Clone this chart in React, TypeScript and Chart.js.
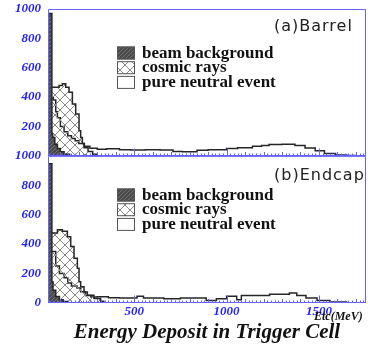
import { useEffect, useRef } from "react";
import { Chart, registerables } from "chart.js";

Chart.register(...registerables);

// ---- data (energy in MeV, counts per bin; edges are bin left edges, last edge closes the histogram) ----
const xTickValues = [500, 1000, 1500];
const yTickValues = [0, 200, 400, 600, 800, 1000];
const seriesLabels = ["beam background", "cosmic rays", "pure neutral event"];
const panelLabels = ["(a)Barrel", "(b)Endcap"];
const xUnitLabel = "Etc(MeV)";
const chartTitle = "Energy Deposit in Trigger Cell";

const barrelBeamEdges = [33, 54, 58, 70, 84, 100, 120, 150];
const barrelBeamCounts = [970, 150, 125, 80, 50, 28, 12, 0];

const barrelCosmicEdges = [33, 93, 111, 129, 147, 165, 183, 201, 210, 219, 228, 250, 275, 300];
const barrelCosmicCounts = [468, 480, 491, 468, 434, 354, 285, 171, 125, 84, 55, 30, 12, 0];

const barrelPureEdges = [33, 62, 75, 84, 100, 120, 140, 160, 180, 200, 230, 260, 300, 350, 420, 480, 560, 640, 710, 760, 840, 900, 1000, 1060, 1140, 1190, 1230, 1300, 1370, 1425, 1480, 1530, 1590, 1650, 1700];
const barrelPureCounts = [395, 380, 300, 260, 200, 165, 137, 118, 103, 85, 65, 52, 45, 48, 42, 40, 42, 40, 30, 29, 38, 42, 50, 55, 65, 70, 78, 80, 70, 53, 35, 16, 6, 3, 0];

const endcapBeamEdges = [33, 54, 60, 75, 95, 115, 140];
const endcapBeamCounts = [946, 143, 86, 43, 20, 8, 0];

const endcapCosmicEdges = [33, 84, 111, 138, 156, 174, 192, 201, 210, 228, 246, 282, 318, 335];
const endcapCosmicCounts = [476, 498, 487, 449, 384, 304, 235, 143, 109, 74, 52, 29, 10, 0];

const endcapPureEdges = [33, 75, 95, 120, 140, 160, 190, 210, 235, 265, 300, 360, 420, 515, 550, 660, 750, 890, 945, 1000, 1055, 1080, 1233, 1340, 1380, 1430, 1490, 1560, 1650];
const endcapPureCounts = [350, 250, 200, 170, 135, 115, 100, 75, 50, 40, 42, 35, 32, 45, 32, 28, 32, 15, 28, 44, 21, 50, 59, 67, 50, 32, 15, 5, 0];

const BLUE_TEXT = "#2222ff";
const BLUE_LINE = "#6464ff";
const OUTLINE = "#262626";

function toPoints(edges: number[], counts: number[]) {
  return edges.map((x, i) => ({ x, y: counts[i] }));
}

function makePattern(kind: "beam" | "cosmic"): CanvasPattern | string {
  const c = document.createElement("canvas");
  const size = kind === "cosmic" ? 10 : 4;
  c.width = size;
  c.height = size;
  const g = c.getContext("2d");
  if (!g) return kind === "beam" ? "#505050" : "rgba(0,0,0,0)";
  if (kind === "beam") {
    g.fillStyle = "#4c4c4c";
    g.fillRect(0, 0, size, size);
    g.strokeStyle = "#6e6e6e";
    g.lineWidth = 1;
    g.beginPath();
    g.moveTo(0, size);
    g.lineTo(size, 0);
    g.stroke();
  } else {
    g.strokeStyle = "#8a8a8a";
    g.lineWidth = 1;
    g.beginPath();
    g.moveTo(0, 0);
    g.lineTo(size, size);
    g.moveTo(size, 0);
    g.lineTo(0, size);
    g.stroke();
  }
  const p = g.createPattern(c, "repeat");
  return p || "#888";
}

const decorPlugin = {
  id: "decor",
  afterDatasetsDraw(chart: any, _args: any, opts: any) {
    const ctx: CanvasRenderingContext2D = chart.ctx;
    const { left, right } = chart.chartArea;
    const xs = chart.scales.x;
    const panels = [chart.scales.yTop, chart.scales.yBot];
    const fills = opts.fills as any[];
    ctx.save();
    panels.forEach((ys: any, p: number) => {
      const top = ys.top;
      const bottom = ys.bottom;
      // frame
      ctx.strokeStyle = BLUE_LINE;
      ctx.lineWidth = 1;
      ctx.beginPath();
      ctx.moveTo(left + 0.5, bottom);
      ctx.lineTo(left + 0.5, top + 0.5);
      ctx.lineTo(right - 0.5, top + 0.5);
      ctx.lineTo(right - 0.5, bottom);
      ctx.moveTo(left, Math.round(bottom) - 0.5);
      ctx.lineTo(right, Math.round(bottom) - 0.5);
      ctx.stroke();
      // x tick marks
      for (let v = 40; v <= 1740; v += 20) {
        const px = Math.round(xs.getPixelForValue(v)) + 0.5;
        const len = v % 500 === 0 ? 7 : v % 100 === 0 ? 3.5 : 2;
        ctx.beginPath();
        ctx.moveTo(px, Math.round(bottom) - 0.5);
        ctx.lineTo(px, Math.round(bottom) - 0.5 - len);
        ctx.stroke();
      }
      // legend
      const ly = opts.legendTops[p];
      seriesLabels.forEach((lab, i) => {
        const by = ly + i * 14.7;
        ctx.fillStyle = "#fff";
        ctx.fillRect(117, by, 18, 13);
        ctx.fillStyle = fills[i];
        ctx.fillRect(117, by, 18, 13);
        ctx.strokeStyle = "#555";
        ctx.lineWidth = 1;
        ctx.strokeRect(117.5, by + 0.5, 17, 12);
        ctx.fillStyle = "#111";
        ctx.font = 'bold 17px "Liberation Serif"';
        ctx.textAlign = "left";
        ctx.textBaseline = "alphabetic";
        ctx.fillText(lab, 142, by + 11);
      });
      // panel label
      ctx.fillStyle = "#222";
      ctx.font = '16px "DejaVu Sans"';
      (ctx as any).letterSpacing = "1px";
      ctx.fillText(panelLabels[p], 274, opts.panelLabelBaselines[p]);
      (ctx as any).letterSpacing = "0px";
    });
    // unit label
    ctx.fillStyle = "#111";
    ctx.font = 'bold italic 12px "Liberation Serif"';
    ctx.fillText(xUnitLabel, 314, 320);
    ctx.restore();
  },
};

export default function App() {
  const ref = useRef<HTMLCanvasElement | null>(null);
  useEffect(() => {
    const canvas = ref.current;
    if (!canvas) return;
    const beamFill = makePattern("beam");
    const cosmicFill = makePattern("cosmic");
    const pureFill = "#ffffff";
    const ds = (label: string, edges: number[], counts: number[], fill: any, axis: string) => ({
      label,
      data: toPoints(edges, counts),
      yAxisID: axis,
      stepped: "before" as const,
      backgroundColor: fill,
      borderColor: OUTLINE,
      borderWidth: 1.5,
      pointRadius: 0,
      fill: "origin",
    });
    const tickFont = { family: "Liberation Serif", size: 13, weight: "bold" as const, style: "italic" as const };
    const yScale = (hideZero: boolean) => ({
      type: "linear" as const,
      position: "left" as const,
      stack: "panels",
      stackWeight: 1,
      min: 0,
      max: 1000,
      grid: { display: false, drawTicks: false, tickLength: 0 },
      border: { display: false },
      afterBuildTicks: (s: any) => {
        s.ticks = yTickValues.map((v) => ({ value: v }));
      },
      afterFit: (s: any) => {
        s.width = 48;
        s.paddingTop = 0;
        s.paddingBottom = 0;
      },
      ticks: {
        autoSkip: false,
        padding: 7,
        color: BLUE_TEXT,
        font: tickFont,
        callback: (v: any) => (hideZero && v === 0 ? "" : String(v)),
      },
    });
    const chart = new Chart(canvas, {
      type: "line",
      data: {
        datasets: [
          ds(seriesLabels[0], barrelBeamEdges, barrelBeamCounts, beamFill, "yTop"),
          ds(seriesLabels[1], barrelCosmicEdges, barrelCosmicCounts, cosmicFill, "yTop"),
          ds(seriesLabels[2], barrelPureEdges, barrelPureCounts, pureFill, "yTop"),
          ds(seriesLabels[0], endcapBeamEdges, endcapBeamCounts, beamFill, "yBot"),
          ds(seriesLabels[1], endcapCosmicEdges, endcapCosmicCounts, cosmicFill, "yBot"),
          ds(seriesLabels[2], endcapPureEdges, endcapPureCounts, pureFill, "yBot"),
        ] as any,
      },
      options: {
        animation: false,
        responsive: false,
        maintainAspectRatio: false,
        layout: { padding: { top: 9, right: 2, left: 0, bottom: 0 } },
        elements: { point: { radius: 0 }, line: { tension: 0 } },
        plugins: {
          legend: { display: false },
          tooltip: { enabled: false },
          title: {
            display: true,
            position: "bottom",
            fullSize: false,
            text: chartTitle,
            color: "#111",
            font: { family: "Liberation Serif", size: 21, weight: "bold", style: "italic" },
            padding: { top: 0, bottom: 2 },
          },
          decor: {
            fills: [beamFill, cosmicFill, pureFill],
            legendTops: [46.5, 188.5],
            panelLabelBaselines: [31, 180],
          },
        } as any,
        scales: {
          x: {
            type: "linear",
            min: 33,
            max: 1755,
            grid: { display: false, drawTicks: false, tickLength: 0 },
            border: { display: false },
            afterBuildTicks: (s: any) => {
              s.ticks = xTickValues.map((v) => ({ value: v }));
            },
            afterFit: (s: any) => {
              s.height = 17;
              s.paddingLeft = 0;
              s.paddingRight = 0;
            },
            ticks: {
              padding: 1,
              color: BLUE_TEXT,
              font: tickFont,
              maxRotation: 0,
              autoSkip: false,
              callback: (v: any) => String(v),
            },
          },
          yBot: yScale(false),
          yTop: yScale(true),
        } as any,
      },
      plugins: [decorPlugin as any],
    });
    return () => chart.destroy();
  }, []);
  return (
    <div style={{ position: "fixed", left: 0, top: 0, width: 368, height: 347, background: "#fff" }}>
      <canvas ref={ref} width={368} height={347} style={{ width: 368, height: 347, display: "block" }} />
    </div>
  );
}
